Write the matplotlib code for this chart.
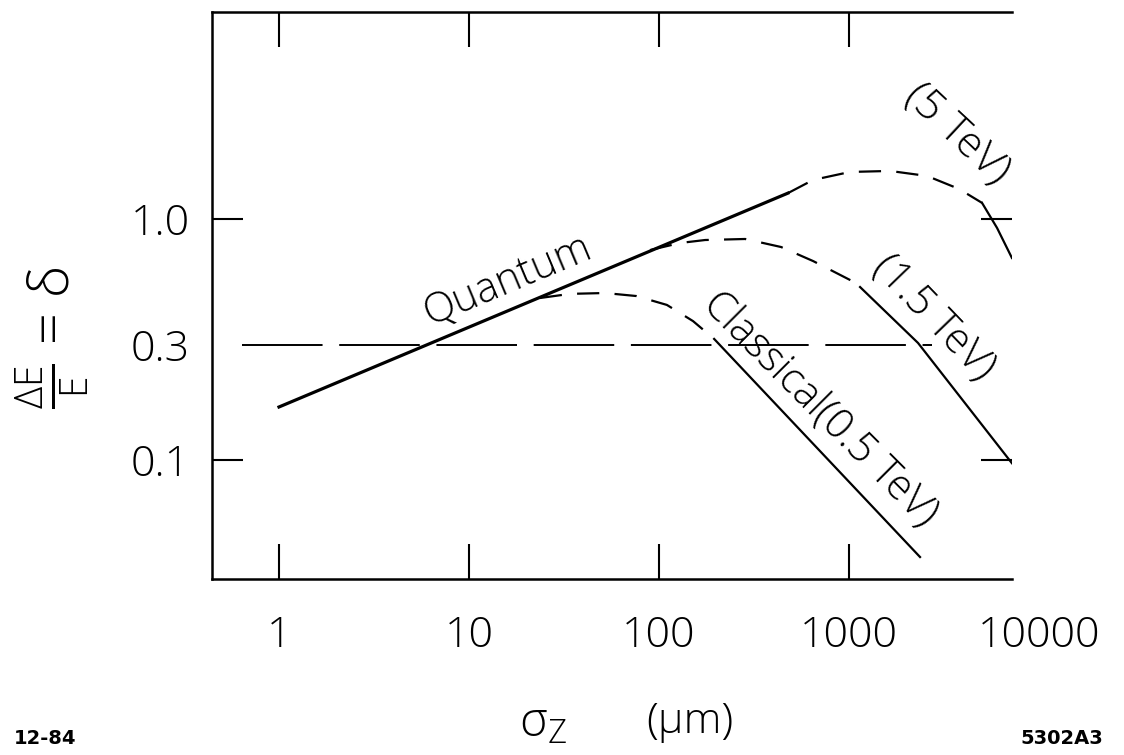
import matplotlib
matplotlib.use('Agg')
import matplotlib.pyplot as plt
import matplotlib.transforms as mtransforms

plt.rcParams['font.family'] = ['Open Sans', 'DejaVu Sans']
plt.rcParams['font.weight'] = 'light'
plt.rcParams['mathtext.fontset'] = 'custom'
plt.rcParams['mathtext.rm'] = 'Open Sans:light'
plt.rcParams['mathtext.it'] = 'Open Sans:light'
plt.rcParams['lines.scale_dashes'] = False

# Quantum regime (solid line)
quantum_x = [1.0, 477]
quantum_y = [0.166, 1.28]

# 0.5 TeV: dashed transition, then classical solid
tev05_dash_x = [23.6, 34, 52, 76, 110, 151, 195]
tev05_dash_y = [0.47, 0.489, 0.493, 0.479, 0.44, 0.377, 0.318]
tev05_solid_x = [195, 2364]
tev05_solid_y = [0.318, 0.0396]

# 1.5 TeV
tev15_dash_x = [89.7, 129, 175, 284, 439, 647, 1037, 1143]
tev15_dash_y = [0.743, 0.795, 0.818, 0.826, 0.765, 0.669, 0.553, 0.522]
tev15_solid_x = [1143, 2307, 7200]
tev15_solid_y = [0.522, 0.306, 0.097]

# 5 TeV
tev5_dash_x = [477, 647, 1012, 1644, 2575, 3793, 5012]
tev5_dash_y = [1.28, 1.452, 1.567, 1.582, 1.508, 1.332, 1.166]
tev5_solid_x = [5012, 6012, 7200]
tev5_solid_y = [1.166, 0.918, 0.689]

# horizontal reference at delta = 0.3
ref_x = [0.638, 2735]
ref_y = [0.3, 0.3]

x_ticks = [1, 10, 100, 1000, 10000]
x_tick_labels = ['1', '10', '100', '1000', '10000']
y_ticks = [0.1, 0.3, 1.0]
y_tick_labels = ['0.1', '0.3', '1.0']

fig = plt.figure(figsize=(11.24, 7.55), dpi=100)
ax = fig.add_axes([0.1886, 0.2331, 0.7117, 0.751])

dash = (0, (16, 11))
ax.plot(quantum_x, quantum_y, color='black', lw=2.3)
ax.plot(tev05_dash_x, tev05_dash_y, color='black', lw=1.6, linestyle=dash)
ax.plot(tev05_solid_x, tev05_solid_y, color='black', lw=1.6)
ax.plot(tev15_dash_x, tev15_dash_y, color='black', lw=1.6, linestyle=dash)
ax.plot(tev15_solid_x, tev15_solid_y, color='black', lw=1.6)
ax.plot(tev5_dash_x, tev5_dash_y, color='black', lw=1.6, linestyle=dash)
ax.plot(tev5_solid_x, tev5_solid_y, color='black', lw=1.6)
ax.plot(ref_x, ref_y, color='black', lw=1.4, linestyle=(0, (58, 12)))

ax.set_xscale('log')
ax.set_yscale('log')
ax.set_xlim(0.444, 7200)
ax.set_ylim(0.0321, 7.22)

ax.set_xticks(x_ticks[:-1])
ax.set_xticklabels([])
ax.set_yticks(y_ticks)
ax.set_yticklabels(y_tick_labels)
ax.minorticks_off()

ax.tick_params(axis='both', which='major', direction='in', width=1.5, colors='black')
ax.tick_params(axis='x', length=25, top=True)
ax.tick_params(axis='y', length=22, pad=16, right=True, labelsize=31)
yt = ax.yaxis.get_major_ticks()
yt[1].tick1line.set_visible(False)
yt[1].tick2line.set_visible(False)

ax.spines['right'].set_visible(False)
for s in ['left', 'top', 'bottom']:
    ax.spines[s].set_linewidth(1.8)

# x tick labels (the 10000 one falls past the frame edge)
trans = mtransforms.blended_transform_factory(ax.transData, ax.transAxes)
for xv, lab in zip(x_ticks, x_tick_labels):
    ax.text(xv, -0.1, lab, transform=trans, ha='center', va='center',
            fontsize=31, clip_on=False)

# curve labels
ax.text(16.0, 0.555, 'Quantum', rotation=22.8, rotation_mode='anchor',
        ha='center', va='center', fontsize=30)
ax.text(704, 0.163, 'Classical(0.5 TeV)', rotation=-45, rotation_mode='anchor',
        ha='center', va='center', fontsize=30)
ax.text(2800, 0.39, '(1.5 TeV)', rotation=-46, rotation_mode='anchor',
        ha='center', va='center', fontsize=30)
ax.text(3700, 2.25, '(5 TeV)', rotation=-43, rotation_mode='anchor',
        ha='center', va='center', fontsize=31)

# axis titles
fig.text(52 / 1124, 1 - 338 / 755, r'$\frac{\mathrm{\Delta E}}{\mathrm{E}}$ = δ', rotation=90,
         ha='center', va='center', fontsize=40)
fig.text(543 / 1124, 1 - 724 / 755, r'σ$_\mathrm{Z}$', ha='center', va='center', fontsize=34)
fig.text(690 / 1124, 1 - 722 / 755, '(μm)', ha='center', va='center', fontsize=31)

fig.text(45 / 1124, 1 - 738 / 755, '12-84', ha='center', va='center',
         fontsize=14, family='DejaVu Sans', weight='bold')
fig.text(1062 / 1124, 1 - 738 / 755, '5302A3', ha='center', va='center',
         fontsize=14, family='DejaVu Sans', weight='bold')

fig.savefig('out.png', dpi=100)
